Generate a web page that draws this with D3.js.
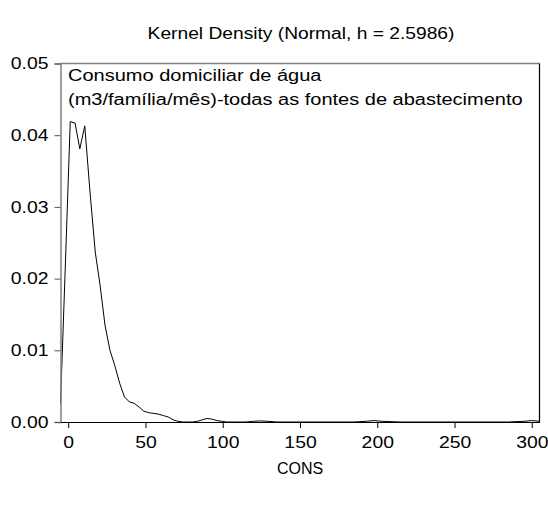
<!DOCTYPE html>
<html>
<head>
<meta charset="utf-8">
<script src="https://cdn.jsdelivr.net/npm/d3@7"></script>
<style>
  html, body { margin: 0; padding: 0; background: #fff; }
  svg { display: block; font-family: "Liberation Sans", Arial, sans-serif; }
</style>
</head>
<body>
<svg id="chart" width="548" height="506"></svg>
<script>
// Kernel density estimate of household water consumption (CONS)
const titleText = "Kernel Density (Normal, h = 2.5986)";
const xLabel = "CONS";
const legendLines = ["Consumo domiciliar de água", "(m3/família/mês)-todas as fontes de abastecimento"];

// evaluation points and estimated density
const consX = [-5.0, -1.9, 1.3, 4.4, 7.5, 10.7, 14.2, 17.5, 20.6, 23.8, 27.0, 30.1, 33.3, 36.4, 39.6,
  42.7, 45.8, 49.0, 52.1, 55.3, 58.4, 61.6, 64.7, 67.9, 71.0, 74.1, 77.3, 80.4, 83.6, 86.7,
  89.9, 93.0, 96.2, 99.3, 102.5, 108.0, 115.0, 120.0, 124.5, 129.0, 135.0, 150.0, 170.0,
  185.0, 193.0, 198.0, 203.0, 215.0, 240.0, 265.0, 285.0, 295.0, 300.0, 305.0];
const density = [0.0026, 0.0216, 0.0419, 0.0417, 0.0381, 0.0413, 0.0318, 0.0237, 0.0191, 0.0135,
  0.0100, 0.0079, 0.0054, 0.0035, 0.0028, 0.0026, 0.0021, 0.0015, 0.0013, 0.0012,
  0.0011, 0.0009, 0.0007, 0.0003, 0.0001, 0.0000, 0.0000, 0.0000, 0.0001, 0.0003,
  0.0005, 0.0004, 0.0002, 0.0001, 0.0000, 0.0000, 0.0000, 0.0001, 0.00015, 0.0001,
  0.0000, 0.0000, 0.0000, 0.0000, 0.0001, 0.0002, 0.0001, 0.0000, 0.0000, 0.0000,
  0.0000, 0.0001, 0.0002, 0.0001];

const xTicks = [0, 50, 100, 150, 200, 250, 300];
const yTicks = [0.00, 0.01, 0.02, 0.03, 0.04, 0.05];

const svg = d3.select("#chart");
const plotLeft = 60.5, plotRight = 539.5, plotTop = 63.5, plotBottom = 422;
const fontSize = 16;

const x = d3.scaleLinear().domain([-5, 305]).range([plotLeft, plotRight]);
const y = d3.scaleLinear().domain([0, 0.05]).range([plotBottom, plotTop]);

// the graph's lettering is set wide: stretch each label horizontally
function widen(sel, factor) {
  sel.each(function () {
    const w = this.getComputedTextLength();
    d3.select(this).attr("textLength", w * factor).attr("lengthAdjust", "spacingAndGlyphs");
  });
}

// title
const title = svg.append("text")
  .attr("x", 301).attr("y", 39)
  .attr("text-anchor", "middle")
  .attr("font-size", fontSize)
  .attr("fill", "#000")
  .text(titleText);
widen(title, 1.2);

// density curve
const line = d3.line().x((d, i) => x(consX[i])).y(d => y(d));
svg.append("path")
  .datum(density)
  .attr("d", line)
  .attr("fill", "none")
  .attr("stroke", "#000")
  .attr("stroke-width", 1);

// frame: top and left in grey, right and bottom in black
svg.append("line").attr("x1", plotLeft).attr("x2", plotRight).attr("y1", plotTop).attr("y2", plotTop)
  .attr("stroke", "#808080").attr("stroke-width", 1.5);
svg.append("line").attr("x1", plotRight).attr("x2", plotRight).attr("y1", plotTop).attr("y2", plotBottom)
  .attr("stroke", "#000").attr("stroke-width", 1.2);

// axes
const yAxis = svg.append("g")
  .attr("transform", `translate(${plotLeft},0)`)
  .call(d3.axisLeft(y).tickValues(yTicks).tickFormat(d3.format(".2f")).tickSize(6).tickPadding(6));
yAxis.select(".domain").attr("stroke", "#808080").attr("stroke-width", 1.5);
yAxis.selectAll(".tick line").attr("stroke", "#555");
yAxis.selectAll("text").attr("font-size", fontSize).attr("fill", "#000")
  .attr("font-family", "Liberation Sans, Arial, sans-serif");
widen(yAxis.selectAll("text"), 1.21);

const xAxis = svg.append("g")
  .attr("transform", `translate(0,${plotBottom})`)
  .call(d3.axisBottom(x).tickValues(xTicks).tickFormat(d3.format("d")).tickSize(6).tickPadding(9).tickSizeOuter(0));
xAxis.select(".domain").attr("stroke", "#000").attr("stroke-width", 1.2);
xAxis.selectAll(".tick line").attr("stroke", "#000");
xAxis.selectAll("text").attr("font-size", fontSize).attr("fill", "#000")
  .attr("font-family", "Liberation Sans, Arial, sans-serif");
widen(xAxis.selectAll("text"), 1.21);

// series description inside the plot
const desc = svg.append("g").selectAll("text")
  .data(legendLines)
  .join("text")
  .attr("x", 68)
  .attr("y", (d, i) => 81 + i * 23.5)
  .attr("font-size", fontSize)
  .attr("fill", "#000")
  .text(d => d);
widen(desc, 1.25);

// x-axis label
const xl = svg.append("text")
  .attr("x", 300).attr("y", 474)
  .attr("text-anchor", "middle")
  .attr("font-size", fontSize)
  .attr("fill", "#000")
  .text(xLabel);
widen(xl, 1.0);
</script>
</body>
</html>
